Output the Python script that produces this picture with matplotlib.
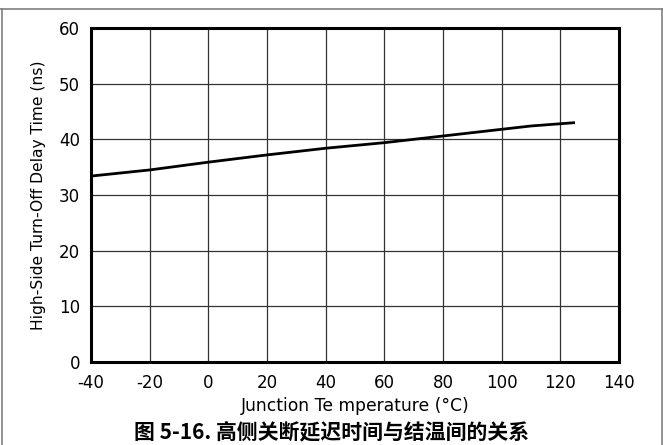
import matplotlib.pyplot as plt
from matplotlib.lines import Line2D

# junction temperature (°C) vs high-side turn-off delay (ns)
temp = [-40, -20, 0, 20, 40, 60, 80, 100, 110, 120, 125]
delay = [33.4, 34.5, 35.9, 37.2, 38.4, 39.4, 40.6, 41.8, 42.4, 42.8, 43.0]

x_ticks = [-40, -20, 0, 20, 40, 60, 80, 100, 120, 140]
y_ticks = [0, 10, 20, 30, 40, 50, 60]

plt.rcParams['font.family'] = ['DejaVu Sans']
plt.rcParams['axes.unicode_minus'] = False

fig = plt.figure(figsize=(6.63, 4.45), dpi=100)
ax = fig.add_axes([91 / 663, 1 - 362 / 445, 528 / 663, 334 / 445])

ax.plot(temp, delay, color='black', linewidth=2.0, solid_capstyle='butt')

ax.set_xlim(-40, 140)
ax.set_ylim(0, 60)
ax.set_xticks(x_ticks)
ax.set_yticks(y_ticks)
ax.grid(True, color='#333333', linewidth=0.9)
ax.set_axisbelow(True)
ax.tick_params(length=0, labelsize=12, colors='black')
ax.tick_params(axis='x', pad=9)
ax.tick_params(axis='y', pad=8)
for s in ax.spines.values():
    s.set_linewidth(2.2)
    s.set_color('black')

ax.set_xlabel('Junction Te mperature (°C)', fontsize=12.3, labelpad=3)
ax.set_ylabel('High-Side Turn-Off Delay Time (ns)', fontsize=11.2, labelpad=9)

fig.text(0.5, 1 - 432 / 445, '图 5-16. 高侧关断延迟时间与结温间的关系',
         family=['Noto Sans CJK SC', 'DejaVu Sans'], fontsize=15,
         fontweight='bold', ha='center', va='center')

# gray frame on top, left and right
frame = dict(color='#808080', linewidth=1.2, transform=fig.transFigure)
fig.add_artist(Line2D([0, 1], [1 - 9 / 445, 1 - 9 / 445], **frame))
fig.add_artist(Line2D([1.5 / 663, 1.5 / 663], [0, 1 - 9 / 445], **frame))
fig.add_artist(Line2D([661.5 / 663, 661.5 / 663], [0, 1 - 9 / 445], **frame))

fig.savefig('out.png', dpi=100)
